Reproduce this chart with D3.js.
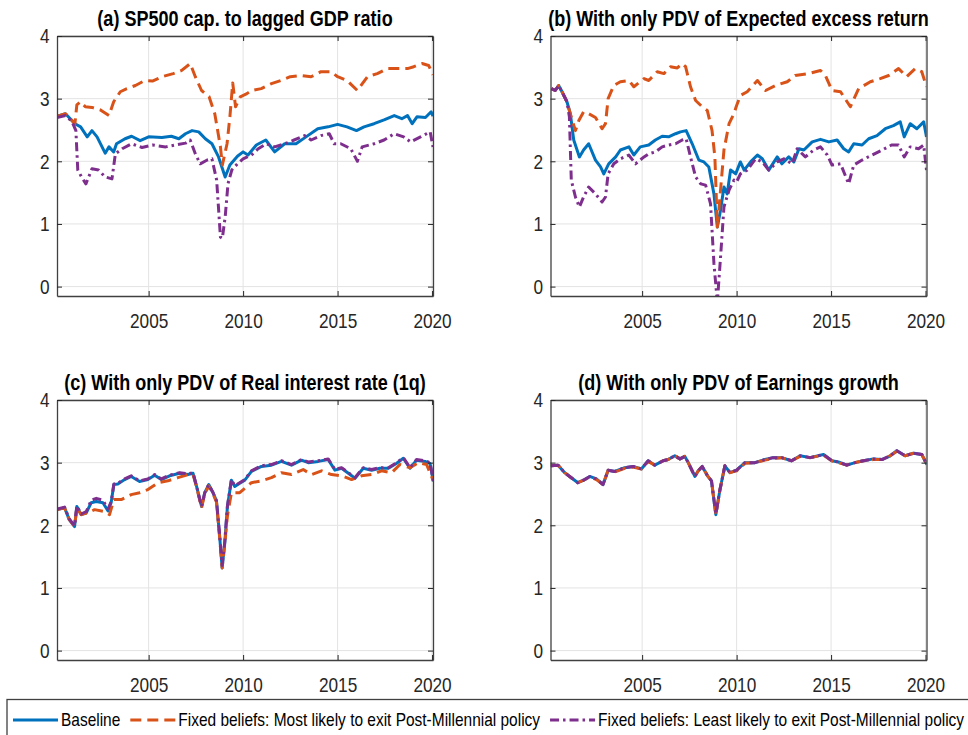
<!DOCTYPE html>
<html>
<head>
<meta charset="utf-8">
<script src="https://cdn.jsdelivr.net/npm/d3@7"></script>
<style>
  body { margin: 0; background: #fff; }
  svg text { font-family: "Liberation Sans", Arial, sans-serif; fill: #262626; }
</style>
</head>
<body>
<svg id="chart" width="968" height="735"></svg>
<script>
// ---- data : [year, value] ----
const titles = [
  "(a) SP500 cap. to lagged GDP ratio",
  "(b) With only PDV of Expected excess return",
  "(c) With only PDV of Real interest rate (1q)",
  "(d) With only PDV of Earnings growth"
];
const legendLabels = [
  "Baseline",
  "Fixed beliefs: Most likely to exit Post-Millennial policy",
  "Fixed beliefs: Least likely to exit Post-Millennial policy"
];
const xTicks = [2005, 2010, 2015, 2020];
const yTicks = [0, 1, 2, 3, 4];

// (a)
const baseA = [[2000.15,2.72],[2000.6,2.76],[2000.85,2.68],[2001.1,2.60],[2001.4,2.55],[2001.75,2.39],[2002.0,2.49],[2002.27,2.39],[2002.7,2.13],[2002.9,2.23],[2003.15,2.15],[2003.3,2.28],[2003.75,2.36],[2004.1,2.40],[2004.55,2.33],[2005.0,2.39],[2005.7,2.38],[2006.2,2.40],[2006.6,2.36],[2006.95,2.44],[2007.3,2.49],[2007.65,2.47],[2008.0,2.36],[2008.35,2.28],[2008.7,2.07],[2009.05,1.75],[2009.3,1.94],[2009.7,2.08],[2010.0,2.15],[2010.26,2.10],[2010.7,2.26],[2011.2,2.34],[2011.67,2.15],[2012.2,2.28],[2012.8,2.28],[2013.33,2.39],[2013.95,2.52],[2014.5,2.55],[2015.0,2.59],[2015.5,2.55],[2016.0,2.49],[2016.4,2.55],[2016.93,2.60],[2017.46,2.66],[2018.0,2.73],[2018.4,2.68],[2018.7,2.73],[2018.95,2.60],[2019.2,2.71],[2019.65,2.70],[2019.95,2.79],[2020.05,2.72]];
const mostA = [[2000.15,2.72],[2000.6,2.76],[2000.85,2.68],[2001.1,2.60],[2001.2,2.90],[2001.4,2.95],[2001.65,2.87],[2002.0,2.86],[2002.45,2.82],[2002.9,2.73],[2003.15,2.95],[2003.5,3.11],[2003.85,3.16],[2004.3,3.21],[2004.8,3.29],[2005.2,3.28],[2005.7,3.35],[2006.3,3.40],[2006.75,3.45],[2007.2,3.56],[2007.47,3.35],[2007.8,3.13],[2008.2,3.03],[2008.5,2.76],[2008.8,2.23],[2008.9,1.94],[2009.15,2.28],[2009.3,2.71],[2009.45,3.25],[2009.6,2.87],[2009.85,3.03],[2010.2,3.08],[2010.44,3.13],[2010.96,3.16],[2011.5,3.24],[2012.0,3.29],[2012.5,3.35],[2013.07,3.37],[2013.6,3.35],[2014.12,3.43],[2014.65,3.43],[2015.0,3.35],[2015.5,3.29],[2016.05,3.13],[2016.58,3.35],[2017.1,3.40],[2017.63,3.48],[2018.16,3.48],[2018.7,3.48],[2019.03,3.51],[2019.47,3.56],[2019.82,3.53],[2020.05,3.38]];
const leastA = [[2000.15,2.70],[2000.6,2.73],[2000.95,2.63],[2001.15,2.49],[2001.25,1.86],[2001.45,1.75],[2001.68,1.64],[2002.0,1.88],[2002.35,1.86],[2002.7,1.75],[2003.06,1.72],[2003.24,2.12],[2003.6,2.20],[2004.1,2.28],[2004.65,2.22],[2005.2,2.26],[2005.9,2.23],[2006.4,2.26],[2006.95,2.29],[2007.2,2.34],[2007.47,2.12],[2007.73,1.96],[2008.1,2.02],[2008.35,2.04],[2008.6,1.70],[2008.8,0.79],[2008.9,0.77],[2009.05,1.11],[2009.2,1.64],[2009.4,1.86],[2009.7,1.96],[2010.0,2.04],[2010.44,2.10],[2010.8,2.20],[2011.23,2.28],[2011.67,2.23],[2012.2,2.28],[2012.7,2.34],[2013.25,2.41],[2013.6,2.34],[2014.12,2.41],[2014.56,2.44],[2014.82,2.28],[2015.17,2.28],[2015.7,2.20],[2016.05,2.00],[2016.3,2.23],[2016.93,2.28],[2017.46,2.34],[2018.0,2.44],[2018.5,2.39],[2018.86,2.31],[2019.39,2.39],[2019.9,2.47],[2020.05,2.23]];

// (b)
const baseB = [[2000.2,3.16],[2000.4,3.13],[2000.58,3.21],[2000.76,3.11],[2001.02,2.95],[2001.2,2.76],[2001.38,2.34],[2001.68,2.07],[2001.9,2.18],[2002.17,2.28],[2002.53,2.02],[2002.8,1.91],[2002.97,1.80],[2003.23,1.96],[2003.6,2.07],[2003.85,2.18],[2004.3,2.23],[2004.56,2.10],[2004.9,2.23],[2005.35,2.26],[2005.7,2.34],[2006.06,2.40],[2006.4,2.39],[2006.77,2.44],[2007.03,2.47],[2007.33,2.49],[2007.65,2.28],[2008.0,2.02],[2008.27,1.99],[2008.53,1.91],[2008.8,1.48],[2008.98,0.95],[2009.15,1.22],[2009.33,1.59],[2009.5,1.48],[2009.68,1.86],[2009.95,1.80],[2010.2,1.99],[2010.4,1.86],[2010.74,1.99],[2011.1,2.10],[2011.36,2.04],[2011.7,1.86],[2012.15,2.07],[2012.4,1.96],[2012.76,2.07],[2013.03,1.99],[2013.3,2.20],[2013.56,2.18],[2014.0,2.31],[2014.44,2.35],[2014.88,2.31],[2015.32,2.34],[2015.67,2.20],[2015.93,2.15],[2016.2,2.28],[2016.64,2.26],[2016.99,2.36],[2017.43,2.41],[2017.87,2.52],[2018.3,2.57],[2018.66,2.63],[2018.87,2.39],[2019.19,2.60],[2019.54,2.52],[2019.9,2.63],[2020.05,2.39]];
const mostB = [[2000.2,3.16],[2000.4,3.13],[2000.58,3.21],[2000.76,3.11],[2001.02,2.95],[2001.15,2.81],[2001.47,2.49],[2001.65,2.65],[2001.9,2.79],[2002.17,2.76],[2002.53,2.70],[2002.88,2.52],[2003.06,2.60],[2003.2,3.00],[2003.5,3.21],[2003.85,3.27],[2004.3,3.29],[2004.56,3.19],[2005.1,3.32],[2005.35,3.29],[2005.8,3.43],[2006.15,3.40],[2006.5,3.51],[2006.86,3.49],[2007.12,3.56],[2007.3,3.51],[2007.56,3.19],[2007.83,2.97],[2008.18,2.87],[2008.45,2.81],[2008.7,2.49],[2008.85,2.07],[2008.98,0.95],[2009.15,1.54],[2009.33,2.18],[2009.6,2.60],[2009.86,2.76],[2010.0,2.89],[2010.2,3.05],[2010.56,3.11],[2011.1,3.29],[2011.53,3.13],[2012.06,3.21],[2012.68,3.27],[2013.1,3.37],[2013.8,3.40],[2014.44,3.45],[2014.7,3.37],[2015.05,3.13],[2015.5,3.11],[2016.02,2.87],[2016.46,3.16],[2017.08,3.27],[2017.6,3.32],[2018.05,3.37],[2018.57,3.48],[2019.0,3.35],[2019.45,3.48],[2019.8,3.43],[2020.05,3.19]];
const leastB = [[2000.2,3.16],[2000.4,3.13],[2000.58,3.21],[2000.76,3.11],[2001.02,2.95],[2001.15,2.71],[2001.25,1.70],[2001.47,1.43],[2001.68,1.27],[2001.9,1.43],[2002.17,1.59],[2002.53,1.48],[2002.88,1.35],[2003.06,1.43],[2003.2,1.80],[2003.5,1.96],[2003.85,2.04],[2004.3,2.10],[2004.65,1.96],[2005.1,2.07],[2005.35,2.12],[2005.7,2.15],[2006.06,2.23],[2006.4,2.26],[2006.77,2.28],[2007.12,2.34],[2007.33,2.36],[2007.56,2.07],[2007.83,1.75],[2008.1,1.64],[2008.36,1.62],[2008.62,1.32],[2008.8,0.37],[2008.98,-0.25],[2009.15,0.47],[2009.33,1.27],[2009.6,1.54],[2009.86,1.70],[2010.0,1.67],[2010.2,1.80],[2010.56,1.86],[2011.0,2.04],[2011.36,1.99],[2011.7,1.86],[2012.15,1.99],[2012.5,2.04],[2012.94,1.96],[2013.2,2.20],[2013.64,2.07],[2014.08,2.18],[2014.44,2.23],[2014.8,2.10],[2015.05,1.94],[2015.5,1.96],[2015.93,1.64],[2016.2,1.94],[2016.64,2.02],[2017.17,2.10],[2017.7,2.18],[2018.2,2.26],[2018.57,2.26],[2018.87,2.07],[2019.19,2.23],[2019.63,2.20],[2019.9,2.26],[2020.05,1.86]];

// (c)
const baseC = [[2000.16,2.25],[2000.55,2.28],[2000.8,2.09],[2001.08,1.98],[2001.2,2.30],[2001.43,2.17],[2001.7,2.20],[2001.96,2.36],[2002.23,2.38],[2002.58,2.36],[2002.85,2.23],[2003.02,2.37],[2003.16,2.65],[2003.37,2.66],[2003.73,2.73],[2004.08,2.78],[2004.52,2.70],[2004.96,2.73],[2005.32,2.80],[2005.67,2.73],[2006.11,2.79],[2006.64,2.83],[2007.08,2.81],[2007.35,2.83],[2007.53,2.63],[2007.8,2.30],[2007.97,2.52],[2008.18,2.65],[2008.41,2.52],[2008.59,2.39],[2008.76,1.82],[2008.89,1.32],[2009.03,1.72],[2009.17,2.30],[2009.38,2.72],[2009.56,2.62],[2009.82,2.67],[2010.09,2.72],[2010.44,2.86],[2010.97,2.94],[2011.5,2.96],[2012.03,3.02],[2012.56,2.96],[2013.09,3.04],[2013.45,3.00],[2013.98,3.02],[2014.5,3.05],[2014.86,2.88],[2015.21,2.91],[2015.57,2.83],[2015.92,2.75],[2016.36,2.91],[2016.8,2.88],[2017.24,2.91],[2017.69,2.91],[2018.13,2.99],[2018.48,3.07],[2018.83,2.91],[2019.18,3.04],[2019.63,3.02],[2019.89,2.99],[2020.07,2.70]];
const mostC = [[2000.16,2.25],[2000.55,2.28],[2000.8,2.09],[2001.08,1.98],[2001.2,2.28],[2001.43,2.17],[2001.8,2.20],[2002.14,2.25],[2002.67,2.22],[2002.93,2.17],[2003.16,2.41],[2003.55,2.41],[2004.08,2.49],[2004.52,2.52],[2004.96,2.57],[2005.5,2.68],[2006.02,2.71],[2006.55,2.76],[2007.08,2.81],[2007.35,2.81],[2007.53,2.62],[2007.8,2.28],[2007.97,2.50],[2008.18,2.63],[2008.41,2.50],[2008.59,2.37],[2008.76,1.80],[2008.89,1.32],[2009.03,1.70],[2009.17,2.15],[2009.38,2.52],[2009.82,2.52],[2010.44,2.68],[2010.97,2.71],[2011.5,2.76],[2012.03,2.84],[2012.56,2.81],[2013.18,2.89],[2013.62,2.81],[2014.15,2.87],[2014.68,2.81],[2015.21,2.79],[2015.74,2.73],[2016.27,2.79],[2016.8,2.81],[2017.33,2.87],[2017.86,2.84],[2018.3,2.97],[2018.83,2.92],[2019.27,3.00],[2019.71,2.97],[2020.07,2.71]];
const leastC = [[2000.16,2.26],[2000.55,2.29],[2000.8,2.10],[2001.08,1.99],[2001.2,2.31],[2001.43,2.18],[2001.7,2.22],[2001.96,2.40],[2002.23,2.43],[2002.58,2.40],[2002.85,2.26],[2003.02,2.38],[2003.16,2.66],[2003.37,2.67],[2003.73,2.74],[2004.08,2.79],[2004.52,2.71],[2004.96,2.74],[2005.32,2.81],[2005.67,2.74],[2006.11,2.80],[2006.64,2.84],[2007.08,2.82],[2007.35,2.84],[2007.53,2.63],[2007.8,2.30],[2007.97,2.52],[2008.18,2.65],[2008.41,2.52],[2008.59,2.39],[2008.76,1.84],[2008.89,1.36],[2009.03,1.74],[2009.17,2.31],[2009.38,2.73],[2009.56,2.63],[2009.82,2.68],[2010.09,2.73],[2010.44,2.87],[2010.97,2.95],[2011.5,2.97],[2012.03,3.03],[2012.56,2.97],[2013.09,3.05],[2013.45,3.01],[2013.98,3.03],[2014.5,3.06],[2014.86,2.89],[2015.21,2.92],[2015.57,2.84],[2015.92,2.76],[2016.36,2.92],[2016.8,2.89],[2017.24,2.92],[2017.69,2.92],[2018.13,3.00],[2018.48,3.08],[2018.83,2.92],[2019.18,3.05],[2019.63,3.03],[2019.89,3.00],[2020.07,2.71]];

// (d)
const baseD = [[2000.16,2.95],[2000.55,2.96],[2000.9,2.84],[2001.25,2.76],[2001.6,2.68],[2001.96,2.73],[2002.23,2.78],[2002.58,2.74],[2002.93,2.65],[2003.2,2.88],[2003.55,2.86],[2004.08,2.92],[2004.52,2.94],[2004.96,2.90],[2005.32,3.03],[2005.67,2.96],[2006.11,3.03],[2006.38,3.05],[2006.73,3.11],[2007.0,3.06],[2007.26,3.10],[2007.44,3.00],[2007.79,2.78],[2007.97,2.87],[2008.18,2.94],[2008.46,2.79],[2008.67,2.71],[2008.9,2.17],[2009.12,2.57],[2009.38,2.95],[2009.65,2.84],[2010.0,2.88],[2010.44,3.00],[2010.97,3.00],[2011.5,3.05],[2011.94,3.08],[2012.38,3.08],[2012.91,3.03],[2013.36,3.11],[2013.89,3.08],[2014.6,3.13],[2015.04,3.03],[2015.39,3.01],[2015.83,2.96],[2016.27,3.00],[2016.71,3.03],[2017.24,3.06],[2017.69,3.05],[2018.13,3.11],[2018.48,3.19],[2018.92,3.11],[2019.36,3.15],[2019.8,3.13],[2020.07,2.97]];
const mostD = [[2000.16,2.95],[2000.55,2.96],[2000.9,2.84],[2001.25,2.76],[2001.6,2.68],[2001.96,2.73],[2002.23,2.77],[2002.58,2.73],[2002.93,2.65],[2003.2,2.88],[2003.55,2.85],[2004.08,2.91],[2004.52,2.93],[2004.96,2.90],[2005.32,3.02],[2005.67,2.96],[2006.11,3.03],[2006.38,3.05],[2006.73,3.11],[2007.0,3.06],[2007.26,3.10],[2007.44,3.00],[2007.79,2.78],[2007.97,2.87],[2008.18,2.94],[2008.46,2.79],[2008.67,2.71],[2008.9,2.17],[2009.12,2.57],[2009.38,2.95],[2009.65,2.84],[2010.0,2.87],[2010.44,2.99],[2010.97,3.00],[2011.5,3.04],[2011.94,3.07],[2012.38,3.08],[2012.91,3.03],[2013.36,3.10],[2013.89,3.08],[2014.6,3.12],[2015.04,3.03],[2015.39,3.00],[2015.83,2.96],[2016.27,3.00],[2016.71,3.03],[2017.24,3.05],[2017.69,3.05],[2018.13,3.11],[2018.48,3.18],[2018.92,3.11],[2019.36,3.15],[2019.8,3.13],[2020.07,2.97]];
const leastD = [[2000.16,2.95],[2000.55,2.96],[2000.9,2.84],[2001.25,2.76],[2001.6,2.68],[2001.96,2.73],[2002.23,2.78],[2002.58,2.74],[2002.93,2.65],[2003.2,2.88],[2003.55,2.86],[2004.08,2.92],[2004.52,2.94],[2004.96,2.90],[2005.32,3.03],[2005.67,2.96],[2006.11,3.03],[2006.38,3.05],[2006.73,3.11],[2007.0,3.06],[2007.26,3.10],[2007.44,3.00],[2007.79,2.78],[2007.97,2.87],[2008.18,2.94],[2008.46,2.79],[2008.67,2.71],[2008.9,2.18],[2009.12,2.57],[2009.38,2.95],[2009.65,2.84],[2010.0,2.88],[2010.44,3.00],[2010.97,3.00],[2011.5,3.05],[2011.94,3.08],[2012.38,3.08],[2012.91,3.03],[2013.36,3.11],[2013.89,3.08],[2014.6,3.13],[2015.04,3.03],[2015.39,3.01],[2015.83,2.96],[2016.27,3.00],[2016.71,3.03],[2017.24,3.06],[2017.69,3.05],[2018.13,3.11],[2018.48,3.19],[2018.92,3.11],[2019.36,3.15],[2019.8,3.13],[2020.07,2.97]];

// ---- layout / styles ----
const colors = ["#0072BD", "#D95319", "#7E2F8E"];
const dashes = [null, "11,6", "9,4,2.5,4"];
const squeeze = 0.82; // narrow look of the original font
const pw = 376, ph = 260;
const panels = [
  { left: 57,    top: 36,  title: titles[0], series: [baseA, mostA, leastA] },
  { left: 550.5, top: 36,  title: titles[1], series: [baseB, mostB, leastB] },
  { left: 57,    top: 400, title: titles[2], series: [baseC, mostC, leastC] },
  { left: 550.5, top: 400, title: titles[3], series: [baseD, mostD, leastD] }
];

const svg = d3.select("#chart");
const x = d3.scaleLinear().domain([2000.15, 2020.05]).range([0, pw]);
const y = d3.scaleLinear().domain([-0.15, 4]).range([ph, 0]);
const line = d3.line().x(d => x(d[0])).y(d => y(d[1]));

panels.forEach((p, i) => {
  const g = svg.append("g").attr("transform", `translate(${p.left},${p.top})`);

  // clip
  g.append("clipPath").attr("id", "clip" + i)
    .append("rect").attr("width", pw).attr("height", ph);

  // grid
  g.append("g").selectAll("line").data(xTicks).enter().append("line")
    .attr("x1", d => x(d)).attr("x2", d => x(d)).attr("y1", 0).attr("y2", ph)
    .attr("stroke", "#e3e3e3").attr("stroke-width", 1);
  g.append("g").selectAll("line").data(yTicks).enter().append("line")
    .attr("x1", 0).attr("x2", pw).attr("y1", d => y(d)).attr("y2", d => y(d))
    .attr("stroke", "#e3e3e3").attr("stroke-width", 1);

  // lines
  const lg = g.append("g").attr("clip-path", `url(#clip${i})`);
  p.series.forEach((s, k) => {
    lg.append("path").datum(s)
      .attr("d", line)
      .attr("fill", "none")
      .attr("stroke", colors[k])
      .attr("stroke-width", 3)
      .attr("stroke-linejoin", "round")
      .attr("stroke-dasharray", dashes[k]);
  });

  // axes (ticks inside, box all round)
  const xb = g.append("g").attr("transform", `translate(0,${ph})`)
    .call(d3.axisBottom(x).tickValues(xTicks).tickFormat(d3.format("d")).tickSizeInner(-5).tickSizeOuter(0).tickPadding(17));
  const xt = g.append("g")
    .call(d3.axisTop(x).tickValues(xTicks).tickFormat("").tickSizeInner(-5).tickSizeOuter(0));
  const yl = g.append("g")
    .call(d3.axisLeft(y).tickValues(yTicks).tickFormat(d3.format("d")).tickSizeInner(-5).tickSizeOuter(0).tickPadding(9));
  const yr = g.append("g").attr("transform", `translate(${pw},0)`)
    .call(d3.axisRight(y).tickValues(yTicks).tickFormat("").tickSizeInner(-5).tickSizeOuter(0));
  [xb, xt, yl, yr].forEach(a => {
    a.select(".domain").attr("stroke", "#404040").attr("stroke-width", 1.3);
    a.selectAll(".tick line").attr("stroke", "#262626");
    a.selectAll(".tick text").attr("font-size", 21).attr("fill", "#262626")
      .style("font-family", '"Liberation Sans", Arial, sans-serif')
      .attr("transform", `scale(${squeeze},1)`);
  });

  // title
  g.append("g").attr("transform", `translate(${pw / 2},-10) scale(${squeeze},1)`)
    .append("text")
    .attr("text-anchor", "middle")
    .attr("font-size", 22).attr("font-weight", "bold")
    .style("fill", "#000")
    .text(p.title);
});

// legend
const legSqueeze = 0.86;
const leg = svg.append("g");
leg.append("rect").attr("x", 7).attr("y", 699.5).attr("width", 980).attr("height", 50)
  .attr("fill", "#fff").attr("stroke", "#404040").attr("stroke-width", 1.3);
let lx = 13;
legendLabels.forEach((lab, k) => {
  leg.append("line").attr("x1", lx).attr("x2", lx + 45).attr("y1", 720).attr("y2", 720)
    .attr("stroke", colors[k]).attr("stroke-width", 3).attr("stroke-dasharray", dashes[k]);
  const t = leg.append("g").attr("transform", `translate(${lx + 48},726) scale(${legSqueeze},1)`)
    .append("text").attr("font-size", 18).style("fill", "#000").text(lab);
  lx = lx + 48 + t.node().getComputedTextLength() * legSqueeze + 10;
});
</script>
</body>
</html>
